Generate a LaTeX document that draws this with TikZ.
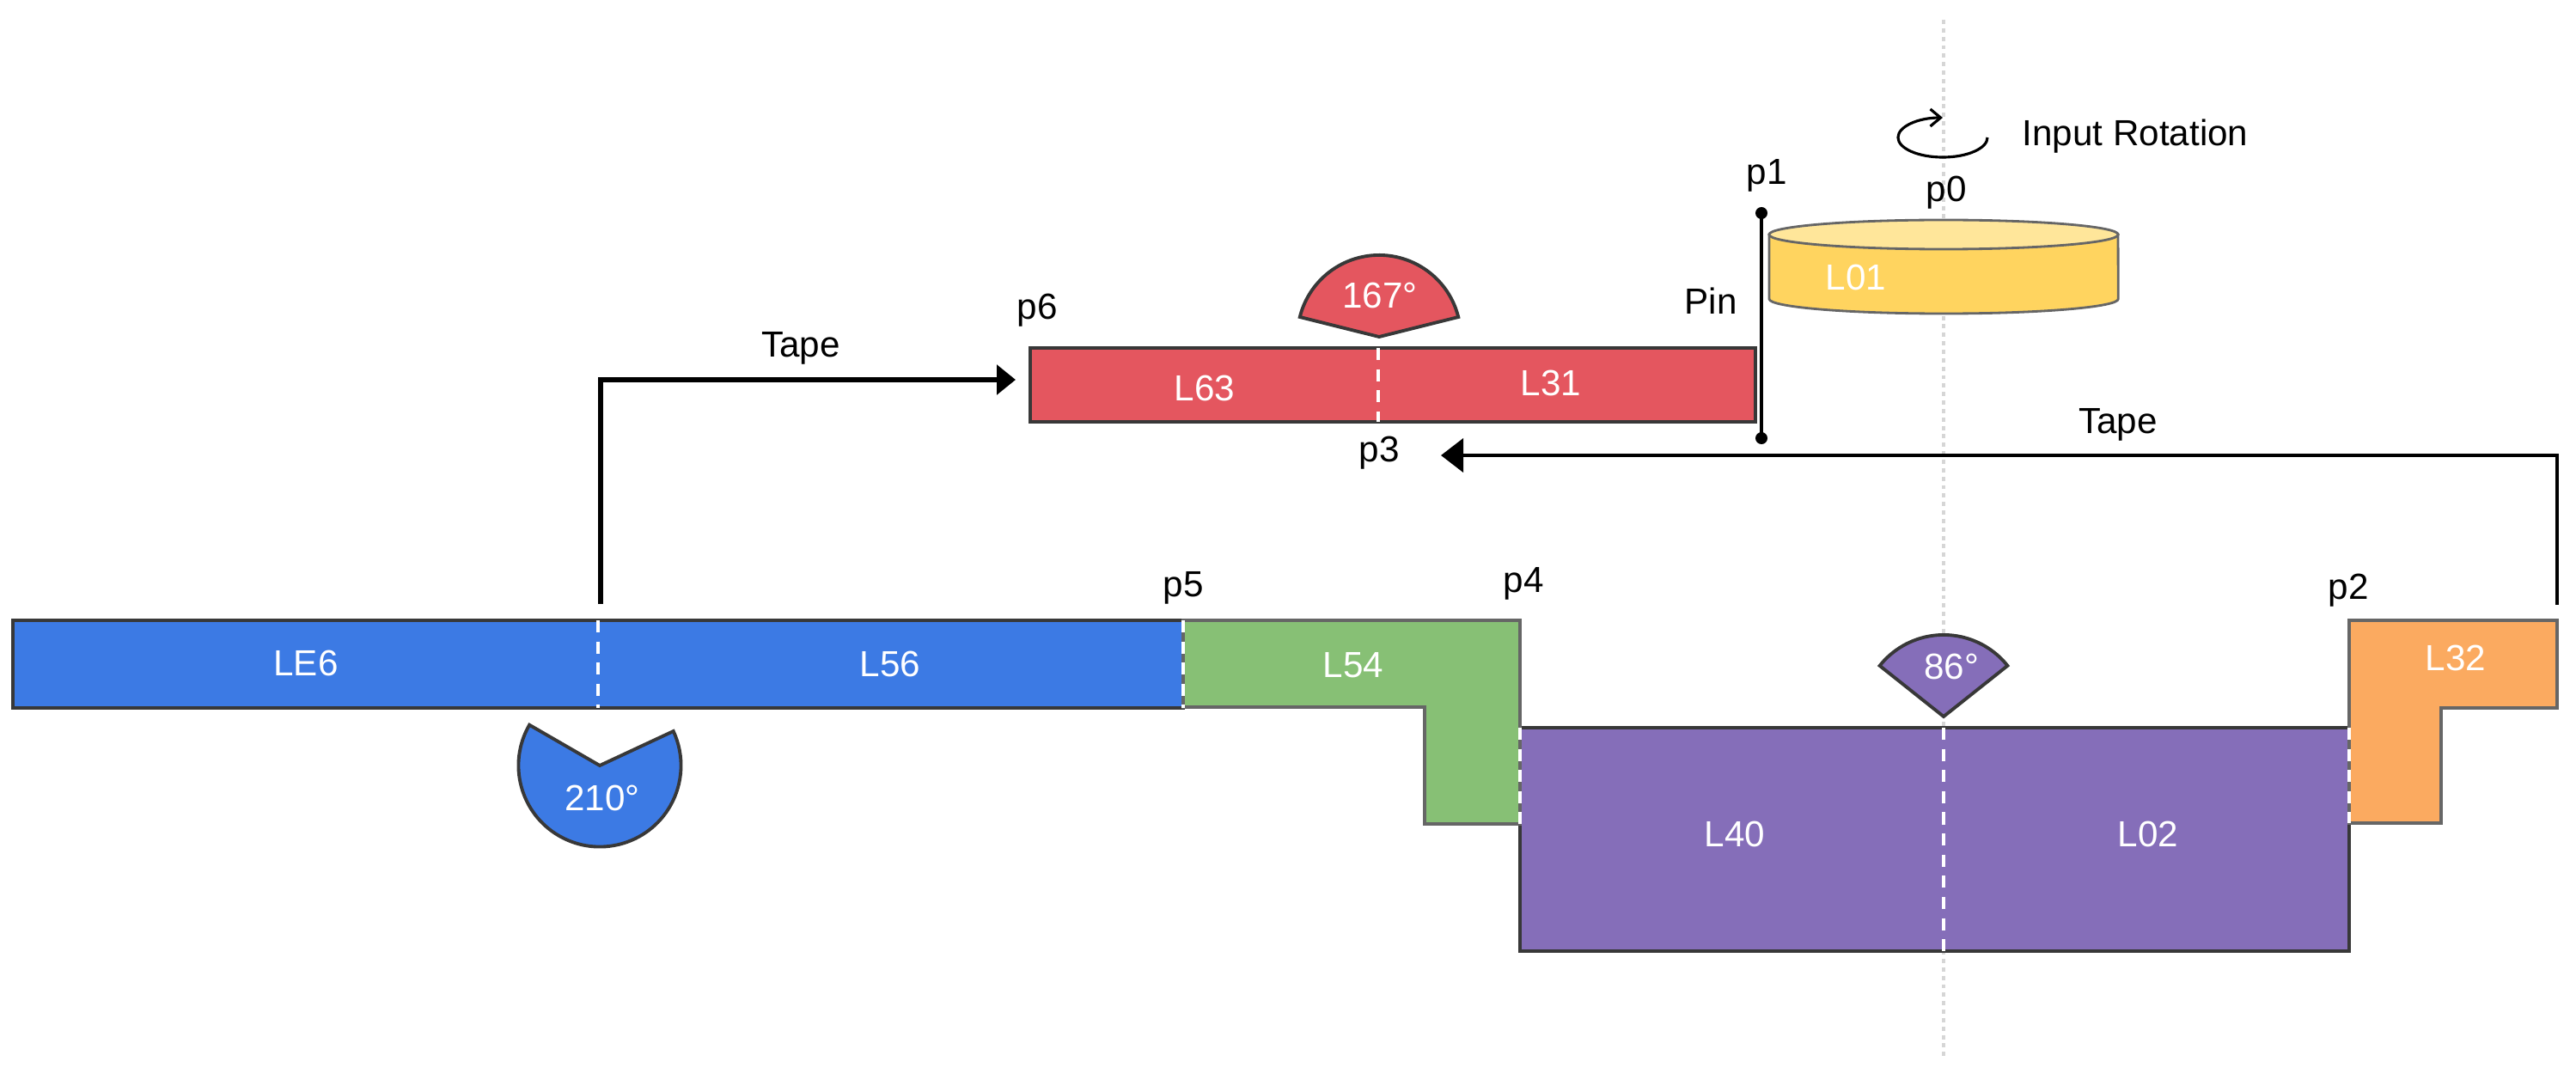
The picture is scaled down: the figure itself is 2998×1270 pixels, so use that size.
\documentclass[tikz,border=0pt]{standalone}
\usepackage{fontspec}
\setmainfont{Liberation Sans}
\usetikzlibrary{arrows.meta}
\definecolor{linkblue}{HTML}{3C7AE4}
\definecolor{linkred}{HTML}{E4565F}
\definecolor{linkpurple}{HTML}{856EB9}
\definecolor{linkgreen}{HTML}{87C075}
\definecolor{linkorange}{HTML}{FBAA60}
\definecolor{linkyellow}{HTML}{FFD45F}
\definecolor{linkpale}{HTML}{FFE69A}
\definecolor{darkedge}{HTML}{383838}
\definecolor{greyedge}{HTML}{666666}
\tikzset{
  darklink/.style={draw=darkedge,line width=1.1pt,miter limit=10},
  greylink/.style={draw=greyedge,line width=1.1pt},
  fold/.style={draw=white,line width=1pt,dash pattern=on 4pt off 3pt},
  whitetext/.style={text=white,inner sep=0pt,anchor=base,font=\fontsize{12}{14}\selectfont},
  blacktext/.style={text=black,inner sep=0pt,anchor=base,font=\fontsize{12}{14}\selectfont},
}
\begin{document}
\begin{tikzpicture}[x=0.01cm,y=-0.01cm]
\useasboundingbox (0,0) rectangle (2998,1270);
% axis
\draw[draw=black!16,line width=.9pt,dash pattern=on 1.4pt off 1.4pt] (2262,23) -- (2262,1229);
\draw[line width=.9pt,-{Straight Barb[length=.12cm,width=.2cm]}] (2313,160) arc[start angle=0,end angle=-270,x radius=.52cm,y radius=.23cm];
% cylinder
\filldraw[greylink,line width=.8pt,fill=linkyellow] (2059,273) -- (2059,348) arc[start angle=180,end angle=360,x radius=2.03cm,y radius=.17cm] -- (2465,273) -- cycle;
\filldraw[greylink,line width=.8pt,fill=linkpale] (2262,273) ellipse[x radius=2.03cm,y radius=.17cm];
% links
\filldraw[darklink,fill=linkred] (1199,405) rectangle (2043,491);
\filldraw[darklink,fill=linkblue] (15,722) rectangle (1377,824);
\filldraw[darklink,fill=linkpurple] (1769,847) rectangle (2734,1107);
\filldraw[greylink,fill=linkgreen] (1377,722) -- (1769,722) -- (1769,959) -- (1658,959) -- (1658,823) -- (1377,823) -- cycle;
\filldraw[greylink,fill=linkorange] (2734,722) -- (2976,722) -- (2976,824) -- (2841,824) -- (2841,958) -- (2734,958) -- cycle;
% fold lines
\draw[fold] (696,722) -- (696,824);
\draw[fold] (1377,722) -- (1377,824);
\draw[fold] (1604,405) -- (1604,491);
\draw[fold] (1769,847) -- (1769,959);
\draw[fold] (2262,847) -- (2262,1107);
\draw[fold] (2734,847) -- (2734,958);
% angles
\filldraw[darklink,fill=linkblue] (698,891) -- ++(150:.945cm) arc[start angle=150,end angle=385,radius=.945cm] -- cycle;
\filldraw[darklink,fill=linkred] (1605,392) -- ++(14:.95cm) arc[start angle=14,end angle=166,radius=.95cm] -- cycle;
\filldraw[darklink,fill=linkpurple] (2262,834) -- ++(38.5:.95cm) arc[start angle=38.5,end angle=141.5,radius=.95cm] -- cycle;
% pin
\coordinate (pintop) at (2050,248);
\coordinate (pinbottom) at (2050,510);
\draw[line width=1.4pt] (pintop) -- (pinbottom);
\fill (pintop) circle (.07cm);
\fill (pinbottom) circle (.07cm);
% tape
\coordinate (tapeLstart) at (699,703);
\coordinate (tapeLbend) at (699,442);
\coordinate (tapeLend) at (1182,442);
\coordinate (tapeRstart) at (2976,704);
\coordinate (tapeRbend) at (2976,530);
\coordinate (tapeRend) at (1677,530);
\draw[line width=1.8pt,-{Triangle[length=.22cm,width=.34cm]}] (tapeLstart) -- (tapeLbend) -- (tapeLend);
\draw[line width=1.2pt,-{Triangle[length=.26cm,width=.39cm]}] (tapeRstart) -- (tapeRbend) -- (tapeRend);
% link labels
\node[whitetext] (LE6) at (356,786) {LE6};
\node[whitetext] (L56) at (1036,787) {L56};
\node[whitetext] (L54) at (1575,788) {L54};
\node[whitetext] (L40) at (2019,985) {L40};
\node[whitetext] (L02) at (2500,985) {L02};
\node[whitetext] (L32) at (2858,780) {L32};
\node[whitetext] (L63) at (1402,466) {L63};
\node[whitetext] (L31) at (1805,460) {L31};
\node[whitetext] (L01) at (2160,338) {L01};
\node[whitetext] (angleE) at (701,943) {210°};
\node[whitetext] (angleC) at (1606,359) {167°};
\node[whitetext] (angleA) at (2271,790) {86°};
% point labels
\node[blacktext] (p0) at (2265,235) {p0};
\node[blacktext] (p1) at (2056,215) {p1};
\node[blacktext] (p2) at (2733,697) {p2};
\node[blacktext] (p3) at (1605,537) {p3};
\node[blacktext] (p4) at (1773,689) {p4};
\node[blacktext] (p5) at (1377,694) {p5};
\node[blacktext] (p6) at (1207,371) {p6};
\node[blacktext] (pin) at (1991,366) {Pin};
\node[blacktext] (tapeL) at (932,416) {Tape};
\node[blacktext] (tapeR) at (2465,504) {Tape};
\node[blacktext] (input) at (2485,170) {Input Rotation};
\end{tikzpicture}
\end{document}
